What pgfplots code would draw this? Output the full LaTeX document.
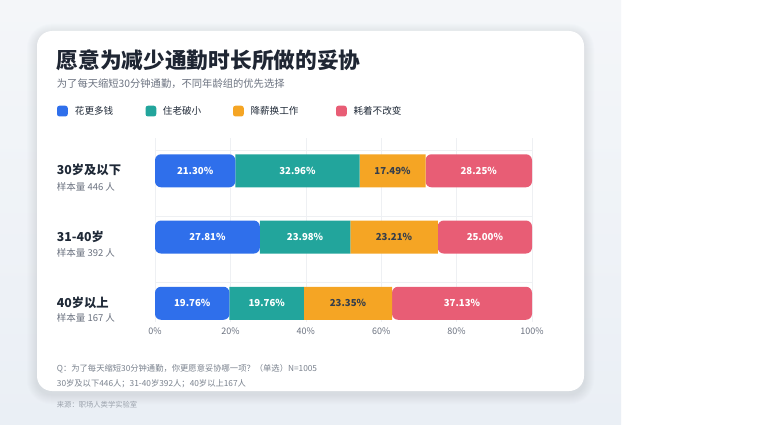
\documentclass[border=0pt]{standalone}
\usepackage{pgfplots}
\pgfplotsset{compat=1.18}
\usepackage{fontspec}
\setmainfont{Noto Sans CJK SC}
\definecolor{cblue}{HTML}{2F6FEB}
\definecolor{cteal}{HTML}{22A59C}
\definecolor{corange}{HTML}{F5A524}
\definecolor{cpink}{HTML}{E85D75}
\definecolor{titlec}{HTML}{1F2633}
\definecolor{subc}{HTML}{6B7280}
\definecolor{labc}{HTML}{1F2937}
\definecolor{tickgray}{HTML}{6B7280}
\definecolor{footc}{HTML}{7A828E}
\definecolor{srcc}{HTML}{9AA1AB}
\definecolor{gridc}{HTML}{EEF0F3}
\definecolor{bgA}{HTML}{F4F6F9}
\definecolor{bgB}{HTML}{EAEFF5}
\definecolor{shadc}{HTML}{8A98AE}
\tikzset{
  lab/.style={font=\fontsize{9.6}{11}\selectfont\bfseries, text=white, inner sep=0pt},
  labd/.style={font=\fontsize{9.6}{11}\selectfont\bfseries, text=labc!90, inner sep=0pt},
}
\begin{document}
\begin{tikzpicture}
% background
\path[use as bounding box] (0pt,0pt) rectangle (782pt,424pt);
\fill[white] (0pt,0pt) rectangle (782pt,424pt);
\shade[top color=bgA, bottom color=bgB] (0pt,0pt) rectangle (621pt,424pt);
% card shadow
\foreach \i in {1,...,10}{
  \fill[shadc, opacity=0.018, rounded corners={14pt+\i pt}]
    ({37pt-\i pt},{33pt-\i pt-3pt}) rectangle ({584pt+\i pt},{393pt+\i pt-3pt});
}
\fill[white, rounded corners=15pt] (37pt,33pt) rectangle (584pt,393pt);
% title
\node[anchor=west, inner sep=0pt, text=titlec, font=\fontsize{21.7}{24}\selectfont\bfseries] at (56.5pt,363.3pt) {愿意为减少通勤时长所做的妥协};
\node[anchor=west, inner sep=0pt, text=subc, font=\fontsize{10.3}{12}\selectfont] at (56.7pt,340.7pt) {为了每天缩短30分钟通勤，不同年龄组的优先选择};
% legend
\foreach \sx/\tx/\cc/\tt in {57/74.7/cblue/花更多钱, 145.5/162.7/cteal/住老破小, 233/250.3/corange/降薪换工作, 336/353.3/cpink/耗着不改变}{
  \fill[\cc, rounded corners=2.5pt] (\sx pt,307.5pt) rectangle ({\sx pt+10.8pt},318.3pt);
  \node[anchor=west, inner sep=0pt, text=labc, font=\fontsize{9.6}{11}\selectfont] at (\tx pt,313pt) {\tt};
}
% row labels
\node[anchor=west, inner sep=0pt, text=labc, font=\fontsize{12.3}{14}\selectfont\bfseries] at (56.7pt,254pt) {30岁及以下};
\node[anchor=west, inner sep=0pt, text=subc, font=\fontsize{9.5}{11}\selectfont] at (56.7pt,237.5pt) {样本量 446 人};
\node[anchor=west, inner sep=0pt, text=labc, font=\fontsize{12.3}{14}\selectfont\bfseries] at (56.7pt,187.5pt) {31-40岁};
\node[anchor=west, inner sep=0pt, text=subc, font=\fontsize{9.5}{11}\selectfont] at (56.7pt,171.3pt) {样本量 392 人};
\node[anchor=west, inner sep=0pt, text=labc, font=\fontsize{12.3}{14}\selectfont\bfseries] at (56.7pt,121.3pt) {40岁以上};
\node[anchor=west, inner sep=0pt, text=subc, font=\fontsize{9.5}{11}\selectfont] at (56.7pt,105.7pt) {样本量 167 人};
% footnotes
\node[anchor=west, inner sep=0pt, text=footc, font=\fontsize{8.3}{10}\selectfont] at (56.7pt,55.7pt) {Q：为了每天缩短30分钟通勤，你更愿意妥协哪一项？（单选）N=1005};
\node[anchor=west, inner sep=0pt, text=footc, font=\fontsize{8.3}{10}\selectfont] at (56.7pt,40.7pt) {30岁及以下446人；31-40岁392人；40岁以上167人};
\node[anchor=west, inner sep=0pt, text=srcc, font=\fontsize{7.3}{8}\selectfont] at (56.7pt,19.7pt) {来源：职场人类学实验室};
\begin{axis}[
  at={(155pt,102.5pt)}, anchor=south west,
  scale only axis, width=377pt, height=183.5pt,
  xmin=0, xmax=100, ymin=0.725, ymax=3.495,
  xbar stacked, bar width=33pt,
  xtick={0,20,40,60,80,100},
  xticklabel={\pgfmathprintnumber{\tick}\%},
  /pgf/number format/assume math mode=true,
  xticklabel style={font=\fontsize{9}{10}\selectfont, text=tickgray, yshift=-3pt},
  ytick={1.315,2.315,3.315}, yticklabels={},
  xmajorgrids, ymajorgrids, grid style={draw=gridc, line width=0.6pt},
  axis line style={draw=none}, major tick style={draw=none},
  clip=false,
]
\addplot[fill=cblue, draw=none, rounded corners=6pt] coordinates {(21.30,3) (27.81,2) (19.76,1)};
\addplot[fill=cteal, draw=none] coordinates {(32.96,3) (23.98,2) (19.76,1)};
\addplot[fill=corange, draw=none] coordinates {(17.49,3) (23.21,2) (23.35,1)};
\addplot[fill=cpink, draw=none, rounded corners=6pt] coordinates {(28.25,3) (25.00,2) (37.13,1)};
\coordinate (a1) at (axis cs:10.65,3);
\coordinate (b1) at (axis cs:37.78,3);
\coordinate (c1) at (axis cs:63.005,3);
\coordinate (d1) at (axis cs:85.875,3);
\coordinate (a2) at (axis cs:13.905,2);
\coordinate (b2) at (axis cs:39.80,2);
\coordinate (c2) at (axis cs:63.395,2);
\coordinate (d2) at (axis cs:87.5,2);
\coordinate (a3) at (axis cs:9.88,1);
\coordinate (b3) at (axis cs:29.64,1);
\coordinate (c3) at (axis cs:51.195,1);
\coordinate (d3) at (axis cs:81.435,1);
\end{axis}
\node[lab] at (a1) {21.30\%};
\node[lab] at (b1) {32.96\%};
\node[labd] at (c1) {17.49\%};
\node[lab] at (d1) {28.25\%};
\node[lab] at (a2) {27.81\%};
\node[lab] at (b2) {23.98\%};
\node[labd] at (c2) {23.21\%};
\node[lab] at (d2) {25.00\%};
\node[lab] at (a3) {19.76\%};
\node[lab] at (b3) {19.76\%};
\node[labd] at (c3) {23.35\%};
\node[lab] at (d3) {37.13\%};
\end{tikzpicture}
\end{document}
